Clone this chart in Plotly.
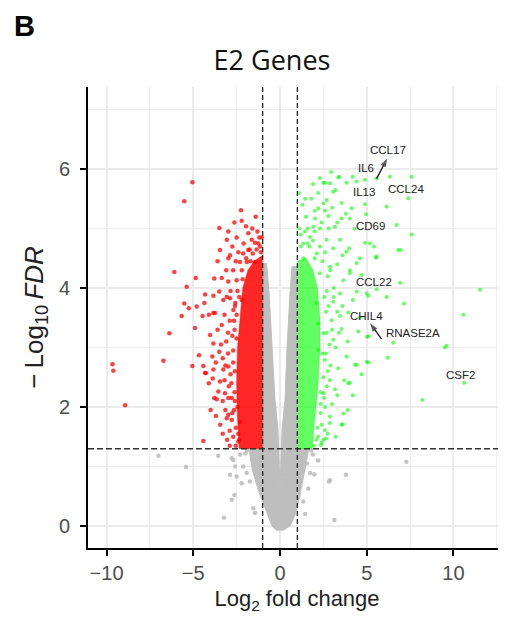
import plotly.graph_objects as go

# ---------------- data ----------------
fc_cut = [-1.0, 1.0]          # log2 fold-change thresholds
fdr_cut = 1.30                # -log10(0.05)

# dense cores of each group (outline of the packed point cloud)
gray_core_x = [-1.0, -1.0, -1.75, -1.73, -1.6, -1.44, -1.25, -1.04, -0.69, -0.46, -0.2, 0.2, 0.58, 0.86,
               1.1, 1.33, 1.5, 1.6, 1.65, 1.0, 1.0, 0.69, 0.58, 0.40, 0.29, 0.115, 0.03, 0.0,
               -0.03, -0.115, -0.29, -0.46, -0.63, -0.78]
gray_core_y = [4.42, 1.30, 1.29, 1.18, 0.95, 0.77, 0.60, 0.44, 0.18, 0.0, -0.07, -0.07, 0.0, 0.18,
               0.44, 0.77, 1.0, 1.2, 1.29, 1.30, 4.36, 4.36, 3.92, 2.96, 2.12, 1.61, 0.9, 0.5,
               0.9, 1.61, 2.12, 2.96, 3.92, 4.42]

red_core_x = [-1.0, -2.35, -2.45, -2.5, -2.45, -2.3, -2.15, -1.85, -1.5, -1.0]
red_core_y = [1.30, 1.30, 1.8, 2.4, 3.0, 3.5, 4.0, 4.3, 4.45, 4.55]

green_core_x = [1.0, 1.85, 2.0, 2.2, 2.3, 2.3, 2.15, 1.9, 1.5, 1.0]
green_core_y = [1.30, 1.30, 1.8, 2.4, 3.0, 3.5, 4.0, 4.3, 4.5, 4.45]

# individual points
red_x = [-5.05, -5.52, -2.25, -2.63, -2.21, -3.50, -2.98, -1.96, -3.07, -3.46, -2.98, -2.88, -6.09, -4.86,
         -5.38, -3.79, -3.36, -2.98, -2.50, -4.32, -5.52, -5.67, -5.26, -4.80, -4.36, -4.90, -6.38, -3.84,
         -3.75, -3.07, -3.84, -3.50, -3.27, -2.88, -2.21, -2.69, -4.46, -6.72, -9.66, -9.61, -8.93, -4.67,
         -5.05, -4.42, -3.69, -3.79, -3.65, -3.88, -4.27, -4.42, -3.84, -3.27, -3.17, -3.07, -2.78, -2.40,
         -3.36, -4.03, -3.84, -3.50, -3.30, -4.32, -3.46, -2.98, -3.56, -2.98, -2.98, -2.78, -2.31, -2.12,
         -1.83, -1.63, -1.44, -1.83, -1.57, -1.92, -1.44,
         -2.7, -2.9, -2.65, -2.8, -3.0, -2.75, -2.9, -2.6, -2.45, -2.7, -2.4, -2.1, -1.3, -1.15, -1.2,
         -2.6, -2.7, -2.65, -3.1, -3.2, -2.9, -3.3, -2.55, -2.2, -1.1, -1.35, -1.7,
         -2.35, -2.55, -2.75, -2.62, -2.85, -2.7, -2.62, -2.5, -2.35, -2.15, -1.95, -1.75, -1.25, -1.05,
         -3.05, -3.15, -3.3, -2.95, -3.15, -3.4, -3.0, -3.2, -2.85, -3.1, -3.6, -3.9, -4.1, -4.0, -3.45,
         -2.5, -1.6, -1.4, -2.75, -3.6, -4.1, -3.7, -2.55, -2.45, -2.6, -2.5, -2.58, -2.4, -2.3]
red_y = [5.78, 5.46, 5.31, 5.10, 5.13, 5.01, 4.95, 5.04, 4.81, 4.64, 4.50, 4.55, 4.27, 4.17,
         4.02, 4.16, 4.17, 4.11, 4.13, 3.89, 3.74, 3.53, 3.66, 3.69, 3.75, 3.33, 3.24, 3.58,
         3.58, 3.85, 3.87, 3.94, 3.80, 3.83, 3.80, 3.63, 3.53, 2.78, 2.72, 2.61, 2.03, 2.87,
         2.69, 1.43, 1.85, 2.15, 2.13, 2.48, 2.57, 2.69, 2.63, 2.63, 2.23, 1.81, 2.15, 1.42,
         3.38, 3.21, 3.07, 2.93, 2.82, 2.57, 2.43, 2.68, 2.26, 2.15, 1.87, 1.78, 4.44, 4.58,
         4.92, 4.81, 4.76, 4.64, 4.58, 4.44, 4.44,
         1.5, 1.6, 1.95, 2.4, 2.9, 3.2, 3.45, 3.7, 3.95, 4.3, 4.6, 4.75, 4.95, 4.7, 4.85,
         2.1, 2.75, 3.45, 3.1, 2.45, 1.35, 1.55, 4.45, 4.3, 4.6, 4.65, 4.45,
         1.45, 1.65, 1.9, 2.25, 2.55, 2.95, 3.3, 3.55, 3.85, 4.15, 4.5, 4.65, 4.75, 4.85,
         1.45, 1.95, 2.1, 2.35, 2.7, 3.05, 3.25, 3.55, 3.95, 4.3, 3.3, 2.85, 2.4, 1.95, 1.7,
         4.85, 5.0, 5.2, 4.7, 4.45, 3.55, 2.75, 1.35, 2.0, 2.6, 3.15, 3.75, 1.55, 1.75]

green_x = [5.57, 6.34, 7.59, 7.40, 6.15, 4.90, 6.72, 7.59, 6.96, 5.53, 5.42, 4.90, 4.13, 4.03, 4.90,
           4.42, 3.84, 3.36, 2.88, 2.59, 6.92, 11.53, 10.57, 7.15, 5.57, 5.09, 4.03, 4.42, 3.99, 9.51,
           9.61, 10.62, 8.21, 6.53, 6.21, 5.09, 5.03, 3.94, 4.42, 3.84, 3.65, 3.61, 2.88, 2.65, 2.36,
           2.50, 3.42, 4.19, 3.07, 3.55, 2.50, 2.21, 2.69, 2.79, 2.02, 1.92, 1.44, 3.55, 3.17, 2.31,
           4.96, 5.19, 5.57, 6.82, 1.34, 1.73, 2.69, 3.46, 3.07, 2.12, 3.84, 4.03, 4.71, 3.65, 2.88,
           6.15, 5.00, 4.42, 3.46, 3.94, 4.51, 5.09, 5.00, 3.55, 3.07, 3.36, 4.32, 4.03, 2.88, 3.17,
           2.50, 3.55, 2.88, 2.59, 2.50, 3.46, 2.98, 3.07, 2.50, 2.59, 2.21,
           2.2, 2.4, 2.6, 2.7, 2.9, 3.2, 3.0, 2.8, 3.3, 3.1, 2.9, 2.6, 2.3, 1.9, 1.2, 1.5, 1.8, 2.2,
           1.1, 1.6, 2.0, 2.4, 2.8, 1.3, 2.6, 1.7, 2.0, 2.75, 2.45, 2.7, 2.85, 2.75, 2.55, 2.35, 2.1,
           1.95, 2.15, 2.35, 2.5, 2.65, 2.7, 2.65, 2.55, 2.3, 2.0, 1.6, 1.2, 1.45, 1.9, 2.3, 3.0, 3.3,
           3.6, 3.3, 3.1, 3.6, 3.4, 3.9, 3.7, 3.3, 3.0, 2.75, 3.2, 3.9, 4.2, 4.7, 4.6, 4.2, 4.6, 4.3,
           3.8, 3.2, 2.95, 1.1, 1.35, 2.4, 2.2, 2.45, 2.1, 2.35]
green_y = [5.84, 5.87, 5.87, 5.51, 5.37, 5.41, 5.06, 4.90, 4.64, 4.51, 4.70, 4.76, 5.34, 5.17, 5.82,
           5.79, 5.77, 5.86, 5.76, 5.77, 4.09, 3.97, 3.55, 3.74, 3.98, 3.87, 4.25, 4.42, 4.67, 3.00,
           3.03, 2.41, 2.12, 3.08, 2.83, 2.75, 3.18, 2.40, 2.71, 2.85, 1.89, 1.71, 1.73, 1.47, 1.36,
           5.77, 5.87, 5.87, 5.62, 5.43, 5.42, 5.34, 5.48, 5.21, 5.17, 5.03, 4.95, 5.17, 5.03, 5.00,
           5.24, 4.75, 4.53, 4.64, 4.75, 4.86, 4.81, 4.81, 4.67, 4.58, 4.61, 4.30, 4.22, 4.13, 4.36,
           3.85, 3.91, 3.94, 3.91, 3.59, 3.27, 3.19, 2.76, 3.31, 3.13, 2.65, 2.71, 2.41, 2.45, 2.30,
           2.23, 1.70, 1.84, 1.61, 1.45, 3.53, 3.46, 3.77, 3.24, 2.79, 2.96,
           1.5, 1.7, 2.0, 2.35, 2.7, 3.0, 3.3, 3.7, 3.6, 4.0, 4.3, 4.6, 4.7, 4.8, 4.7, 5.2, 5.5, 5.6,
           5.0, 5.0, 5.3, 5.1, 5.0, 5.4, 5.3, 4.7, 4.95, 4.2, 4.45, 3.95, 3.05, 2.6, 2.15, 1.9, 1.45,
           1.35, 1.65, 2.05, 2.5, 2.9, 3.25, 3.6, 3.85, 4.25, 4.5, 4.75, 4.9, 5.5, 5.75, 5.85, 5.35, 5.1,
           4.55, 4.4, 3.85, 3.7, 3.25, 3.1, 2.45, 2.2, 2.05, 1.55, 1.5, 1.95, 2.2, 2.55, 3.5, 3.8, 4.5, 5.0,
           5.25, 5.65, 5.95, 5.6, 4.5, 1.4, 3.4, 2.9, 3.75, 2.25]

gray_x = [-7.01, -5.42, -3.56, -2.78, -2.59, -2.88, -2.50, -2.63, -2.78, -3.23, -2.12, -2.21, -1.92,
          -1.54, -1.44, -1.73, -2.69, -2.30, -2.0, 1.54, 1.73, 1.63, 2.88, 3.13, 1.34, 7.28, 3.80,
          2.82, 1.98, 1.9, 2.2, 1.45, -1.9, 1.8]
gray_y = [1.18, 0.99, 1.18, 1.14, 1.00, 0.86, 0.83, 0.52, 0.44, 0.14, 1.00, 0.72, 0.89,
          0.30, 0.22, 0.75, 1.11, 1.20, 1.22, 1.05, 0.89, 0.63, 0.77, 0.10, 0.41, 1.08, 0.86,
          0.75, 0.87, 1.2, 1.1, 0.2, 1.27, 1.27]

label_text = ["CCL17", "IL6", "IL13", "CCL24", "CD69", "CCL22", "CHIL4", "RNASE2A", "CSF2"]
label_x = [6.22, 4.96, 4.84, 7.26, 5.19, 5.42, 5.01, 7.67, 10.43]
label_y = [6.32, 6.02, 5.61, 5.66, 5.04, 4.10, 3.53, 3.24, 2.54]

# label connector arrows: tail -> head
arrow_tail_x = [5.57, 5.86]
arrow_tail_y = [5.84, 3.14]
arrow_head_x = [6.18, 5.19]
arrow_head_y = [6.18, 3.41]

x_ticks = [-10, -5, 0, 5, 10]
y_ticks = [0, 2, 4, 6]

# ---------------- figure ----------------
GRAY = "#BEBEBE"
ARIAL = "Liberation Sans, Arial, sans-serif"
fig = go.Figure()

fig.add_trace(go.Scatter(x=gray_core_x, y=gray_core_y, mode="lines", fill="toself",
                         fillcolor=GRAY, line=dict(color=GRAY, width=1), hoverinfo="skip"))
fig.add_trace(go.Scatter(x=gray_x, y=gray_y, mode="markers",
                         marker=dict(color=GRAY, size=4.5, opacity=0.9)))

fig.add_trace(go.Scatter(x=red_core_x, y=red_core_y, mode="lines", fill="toself",
                         fillcolor="rgba(255,0,0,0.85)", line=dict(color="rgba(255,0,0,0.4)", width=1),
                         hoverinfo="skip"))
fig.add_trace(go.Scatter(x=red_x, y=red_y, mode="markers",
                         marker=dict(color="#FF0000", size=4.5, opacity=0.75)))

fig.add_trace(go.Scatter(x=green_core_x, y=green_core_y, mode="lines", fill="toself",
                         fillcolor="rgba(0,255,0,0.62)", line=dict(color="rgba(0,255,0,0.4)", width=1),
                         hoverinfo="skip"))
fig.add_trace(go.Scatter(x=green_x, y=green_y, mode="markers",
                         marker=dict(color="#00FF00", size=4, opacity=0.6)))

# connector arrows
for tx, ty, hx, hy in zip(arrow_tail_x, arrow_tail_y, arrow_head_x, arrow_head_y):
    fig.add_trace(go.Scatter(x=[tx, hx], y=[ty, hy], mode="lines+markers",
                             line=dict(color="#111111", width=1.3),
                             marker=dict(symbol="arrow", angleref="previous", size=[0, 9],
                                         color="#111111", line=dict(width=0)),
                             hoverinfo="skip"))

# threshold lines
for xv in fc_cut:
    fig.add_shape(type="line", xref="x", yref="paper", x0=xv, x1=xv, y0=0, y1=1,
                  line=dict(color="#222222", width=1.3, dash="5px,3px"), layer="above")
fig.add_shape(type="line", xref="paper", yref="y", x0=0, x1=1, y0=fdr_cut, y1=fdr_cut,
              line=dict(color="#333333", width=1.5, dash="6px,3px"), layer="above")

# gene labels
for t, lx, ly in zip(label_text, label_x, label_y):
    fig.add_annotation(x=lx, y=ly, text=t, showarrow=False,
                       font=dict(family=ARIAL, size=11.5, color="#222222"))

# page has an 8px body margin: plot area on screen is x 88..506, y 87..548
PW, PH = 418.0, 461.0
def px(xp):
    return (xp - 88) / PW
def py(yp):
    return (548 - yp) / PH

fig.add_annotation(xref="paper", yref="paper", x=px(12), y=py(26), xanchor="left", yanchor="middle",
                   text="<b>B</b>", showarrow=False, font=dict(family=ARIAL, size=29, color="black"))

tickfont = dict(family=ARIAL, size=20, color="#4D4D4D")

fig.update_layout(
    width=498, height=611,
    margin=dict(l=80, r=0, t=79, b=71, autoexpand=False),
    plot_bgcolor="white", paper_bgcolor="white",
    showlegend=False,
    title=dict(text="E2 Genes", xref="paper", x=px(272), xanchor="center",
               yref="container", y=1 - (61 - 8) / 611.0, yanchor="middle",
               font=dict(family="Open Sans, Noto Sans, sans-serif", size=27, color="#111111")),
    xaxis=dict(range=[-11.07, 13.03], tickvals=x_ticks, ticks="outside", ticklen=6, tickwidth=1.5,
               tickcolor="black", showline=True, linecolor="black", linewidth=2,
               showgrid=True, gridcolor="#EBEBEB", gridwidth=1.5, zeroline=False, automargin=False,
               minor=dict(dtick=2.5, tick0=0, showgrid=True, gridcolor="#EFEFEF", gridwidth=1.2),
               tickfont=tickfont,
               title=dict(text="Log<sub>2</sub> fold change", standoff=8,
                          font=dict(family=ARIAL, size=22, color="#222222"))),
    yaxis=dict(range=[-0.37, 7.38], tickvals=y_ticks, ticks="outside", ticklen=6, tickwidth=1.5,
               tickcolor="black", showline=True, linecolor="black", linewidth=2,
               showgrid=True, gridcolor="#EBEBEB", gridwidth=1.5, zeroline=False, automargin=False,
               minor=dict(dtick=1, tick0=0, showgrid=True, gridcolor="#EFEFEF", gridwidth=1.2),
               ticklabelstandoff=6, tickfont=tickfont,
               title=dict(text="\u2212\u2009Log<sub>10</sub>\u2009<i>FDR</i>", standoff=8,
                          font=dict(family=ARIAL, size=26, color="#222222"))),
)

fig.write_html("out.html")
